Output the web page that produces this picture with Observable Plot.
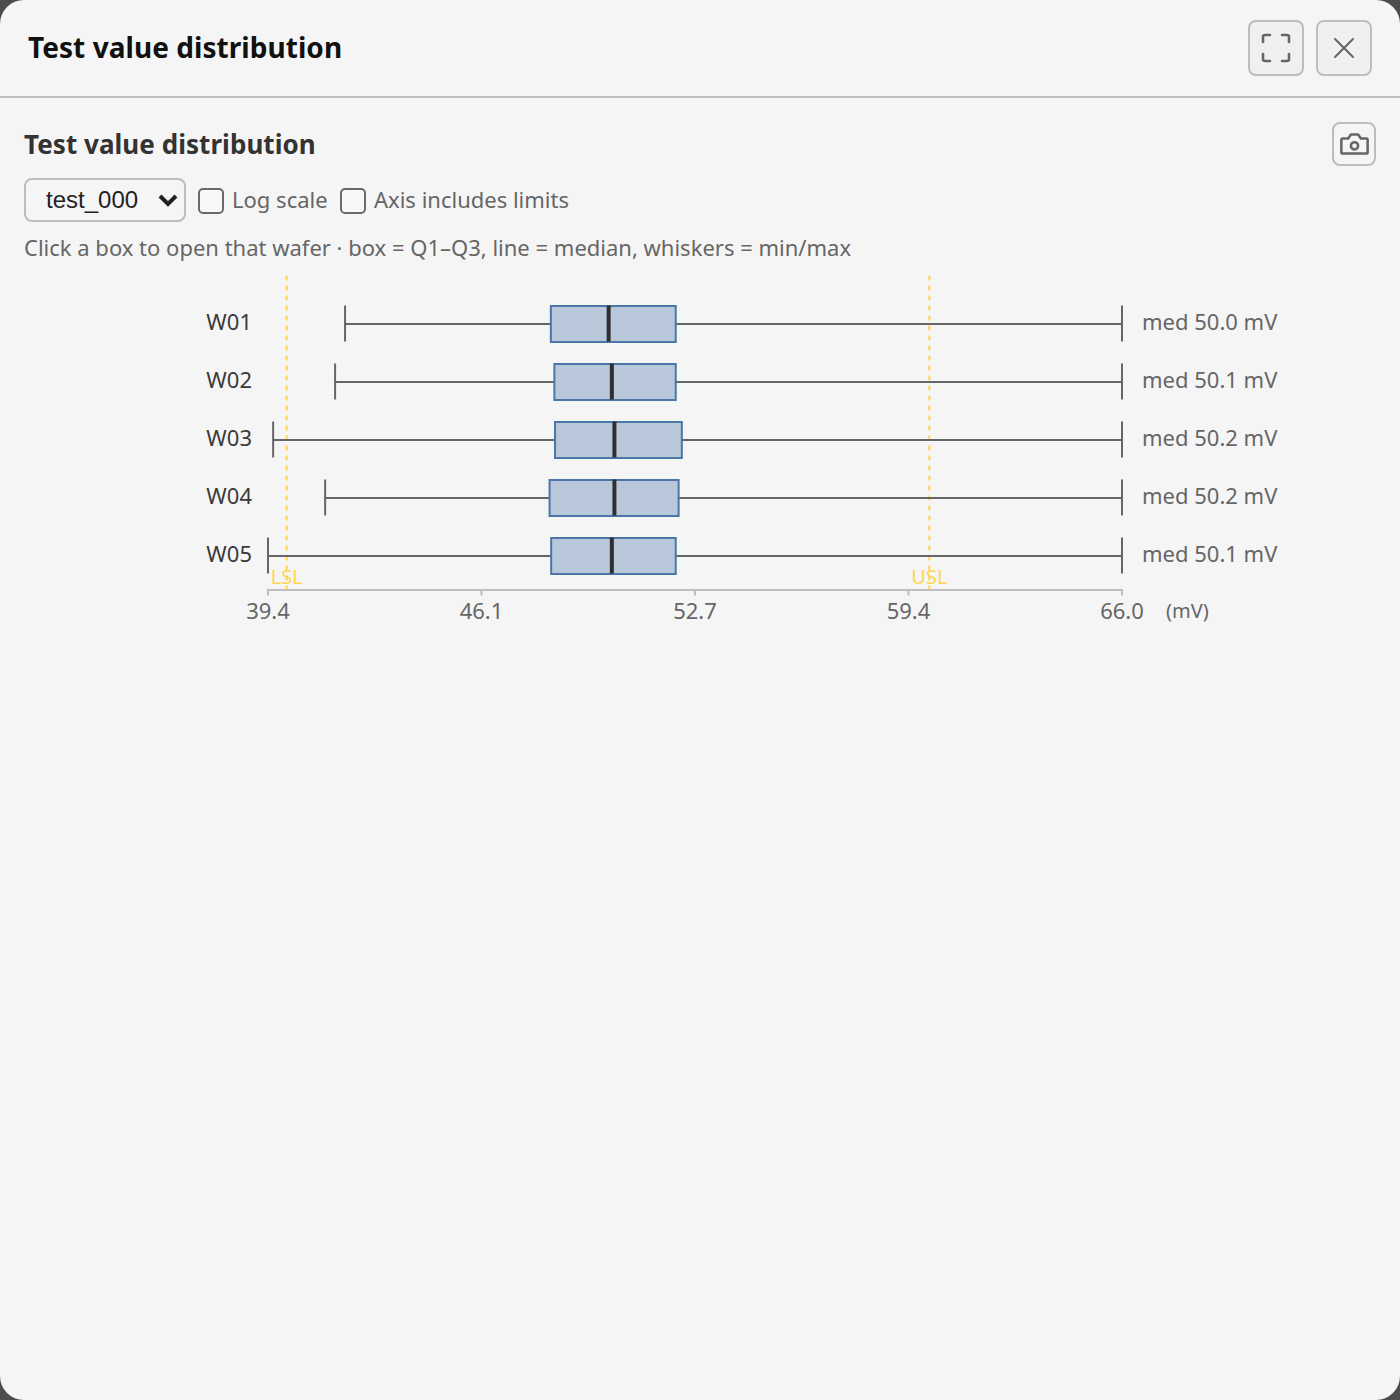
<!DOCTYPE html>
<html>
<head>
<meta charset="utf-8">
<script src="https://cdn.jsdelivr.net/npm/d3@7"></script>
<script src="https://cdn.jsdelivr.net/npm/@observablehq/plot@0.6"></script>
<style>
html,body{margin:0;padding:0;width:1400px;height:1400px;background:#4d4d4d;overflow:hidden;font-family:"Noto Sans",sans-serif;}
#panel{position:absolute;left:0;top:0;width:1400px;height:1400px;background:#f5f5f5;border-radius:24px;overflow:hidden;}
#panel>*{position:absolute;box-sizing:border-box;}
h1,h2{margin:0;white-space:nowrap;font-weight:700;}
#title{left:28px;top:28px;font-size:28px;line-height:38px;color:#111;letter-spacing:.05px;}
#rule{left:0;top:96px;width:1400px;height:2px;background:#bdbdbd;}
.btn{border:2px solid #bdbdbd;background:#f0f0f0;border-radius:8px;display:flex;align-items:center;justify-content:center;}
#b1{left:1248px;top:20px;width:56px;height:56px;}
#b2{left:1316px;top:20px;width:56px;height:56px;}
#b3{left:1332px;top:122px;width:44px;height:44px;background:#f5f5f5;}
#sub{left:24px;top:126px;font-size:26px;line-height:36px;color:#333;letter-spacing:.05px;}
#sel{left:24px;top:178px;width:162px;height:44px;border:2px solid #bdbdbd;border-radius:8px;background:#f5f5f5;color:#222;font:24px "Liberation Sans",Arial,sans-serif;padding:0 0 0 20px;line-height:40px;}
#sel span{position:absolute;left:20px;top:0;}
#sel svg{position:absolute;right:5px;top:12px;}
.cb{width:26px;height:26px;border:2px solid #6a6a6a;border-radius:5px;background:#f8f8f8;top:188px;}
.lab{top:183px;font-size:22px;line-height:32px;color:#666;white-space:nowrap;}
#hint{left:24px;top:231px;font-size:22px;line-height:32px;color:#666;white-space:nowrap;}
#chart{left:24px;top:276px;}
#chart svg{display:block;background:transparent;transform:translate(-.5px,-.5px);}
</style>
</head>
<body>
<div id="panel">
  <h1 id="title">Test value distribution</h1>
  <div class="btn" id="b1"><svg width="30" height="30" viewBox="0 0 30 30" fill="none" stroke="#666" stroke-width="2.6" stroke-linecap="round" stroke-linejoin="round"><path d="M2 9V4a2 2 0 0 1 2-2h5M21 2h5a2 2 0 0 1 2 2v5M28 21v5a2 2 0 0 1-2 2h-5M9 28H4a2 2 0 0 1-2-2v-5"/></svg></div>
  <div class="btn" id="b2"><svg width="22" height="22" viewBox="0 0 22 22" fill="none" stroke="#666" stroke-width="2" stroke-linecap="round"><path d="M2 2L20 20M20 2L2 20"/></svg></div>
  <div id="rule"></div>
  <h2 id="sub">Test value distribution</h2>
  <div class="btn" id="b3"><svg width="29" height="24" viewBox="0 0 32 26" fill="none" stroke="#666" stroke-width="2.8" stroke-linejoin="round"><path d="M3 7h6l3-4.500h8L23 7h6a1.500 1.500 0 0 1 1.500 1.500V22a1.500 1.500 0 0 1-1.500 1.500H3A1.500 1.500 0 0 1 1.500 22V8.500A1.500 1.500 0 0 1 3 7z"/><circle cx="16" cy="15" r="4"/></svg></div>
  <div id="sel"><span>test_000</span><svg width="22" height="18" viewBox="0 0 22 18" fill="none" stroke="#222" stroke-width="4"><path d="M3 4l8 8 8-8"/></svg></div>
  <div class="cb" style="left:198px"></div>
  <div class="lab" style="left:232px">Log scale</div>
  <div class="cb" style="left:340px"></div>
  <div class="lab" style="left:374px">Axis includes limits</div>
  <div id="hint">Click a box to open that wafer · box = Q1–Q3, line = median, whiskers = min/max</div>
  <div id="chart"></div>
</div>
<script>
const wafers = ["W01","W02","W03","W04","W05"];
const mins   = [41.8, 41.49, 39.56, 41.18, 39.4];
const q1s    = [48.21, 48.32, 48.34, 48.17, 48.22];
const medians= [50.01, 50.11, 50.19, 50.19, 50.11];
const q3s    = [52.1, 52.1, 52.29, 52.19, 52.1];
const maxs   = [66, 66, 66, 66, 66];
const medLabels = ["med 50.0 mV","med 50.1 mV","med 50.2 mV","med 50.2 mV","med 50.1 mV"];
const tickValues = [39.4, 46.05, 52.7, 59.35, 66.0];
const tickLabels = ["39.4","46.1","52.7","59.4","66.0"];
const limits = [{name:"LSL", v:39.98},{name:"USL", v:60.0}];

const rows = wafers.map((w,i)=>({w,min:mins[i],q1:q1s[i],med:medians[i],q3:q3s[i],max:maxs[i],label:medLabels[i]}));
const YELLOW="#ffd54f", GREY="#666";

const plot = Plot.plot({
  width:1352, height:354,
  marginLeft:244, marginRight:254, marginTop:0, marginBottom:40,
  style:{fontFamily:'"Noto Sans",sans-serif',background:"transparent",overflow:"visible"},
  x:{domain:[39.4,66.0],label:null},
  y:{domain:wafers,range:[19,309],padding:0,label:null,axis:null},
  marks:[
    Plot.frame({anchor:"bottom",stroke:"#bdbdbd",strokeWidth:2}),
    Plot.ruleX(limits,{x:"v",stroke:YELLOW,strokeWidth:2,strokeDasharray:"5 5"}),
    Plot.ruleY(rows,{y:"w",x1:"min",x2:"max",stroke:GREY,strokeWidth:2}),
    Plot.tickX(rows,{x:"min",y:"w",stroke:GREY,strokeWidth:2,insetTop:11,insetBottom:11}),
    Plot.tickX(rows,{x:"max",y:"w",stroke:GREY,strokeWidth:2,insetTop:11,insetBottom:11}),
    Plot.barX(rows,{x1:"q1",x2:"q3",y:"w",fill:"#b8c8da",stroke:"#4a76a8",strokeWidth:2,insetTop:11,insetBottom:11,dx:0.5,dy:0.5}),
    Plot.tickX(rows,{x:"med",y:"w",stroke:"#2f2f2f",strokeWidth:4,insetTop:11,insetBottom:11}),
    Plot.text(rows,{x:39.4,y:"w",text:"w",textAnchor:"end",dx:-16,dy:-1,fontSize:22,fill:"#3a3a3a"}),
    Plot.text(rows,{x:66,y:"w",text:"label",textAnchor:"start",dx:20,dy:-1,fontSize:22,fill:GREY}),
    Plot.text(limits,{x:"v",text:"name",frameAnchor:"bottom",dy:-6,fontSize:20,fill:YELLOW}),
    Plot.axisX({ticks:tickValues,tickFormat:d=>tickLabels[tickValues.indexOf(d)],tickSize:6,tickPadding:7,fontSize:22,stroke:"#bdbdbd",strokeWidth:2,color:GREY,label:null}),
    Plot.text(["(mV)"],{x:66,text:d=>d,frameAnchor:"bottom",textAnchor:"start",dx:44,dy:28,fontSize:20,fill:GREY})
  ]
});
document.getElementById("chart").appendChild(plot);
</script>
</body>
</html>
